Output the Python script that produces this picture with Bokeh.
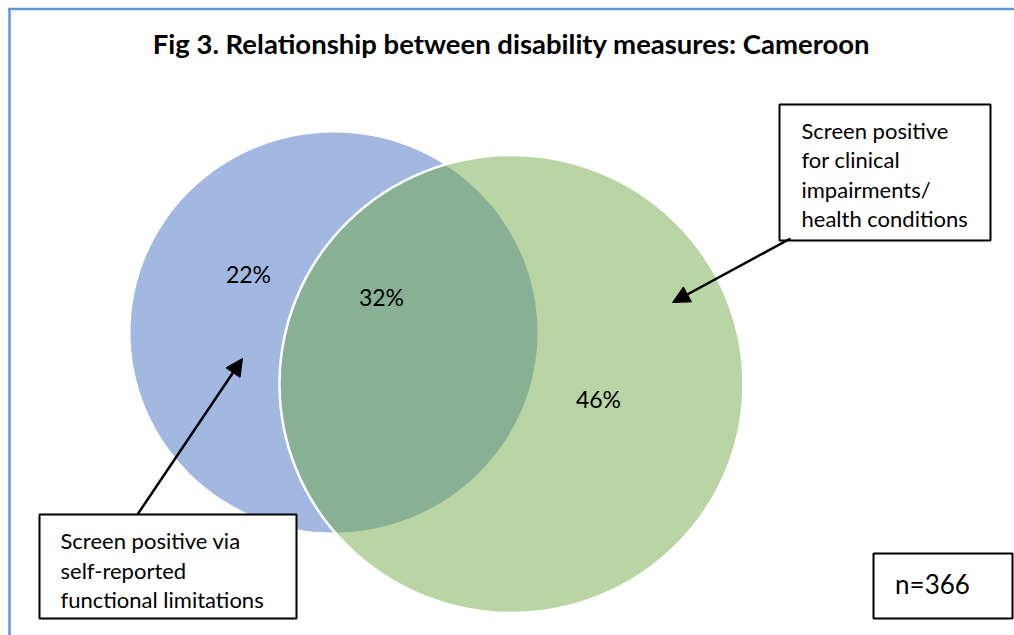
from bokeh.plotting import figure
from bokeh.models import Range1d, Arrow, NormalHead
from bokeh.core.properties import value
from bokeh.embed import file_html
from bokeh.resources import INLINE

# ---------------- data ----------------
title_text = "Fig 3. Relationship between disability measures: Cameroon"
region_names = ["self-reported only", "both", "clinical only"]
region_pcts = ["22%", "32%", "46%"]
set_a_lines = ["Screen positive via", "self-reported", "functional limitations"]
set_b_lines = ["Screen positive", "for clinical", "impairments/", "health conditions"]
n_text = "n=366"

W, H = 1014, 635
FONT = "Lato"


def sx(x):
    return x


def sy(y):
    return H - y


p = figure(width=W, height=H, output_backend="svg", toolbar_location=None,
           x_range=Range1d(0, W), y_range=Range1d(0, H), min_border=0)
p.axis.visible = False
p.grid.visible = False
p.outline_line_color = None
p.background_fill_color = "white"
p.border_fill_color = "white"

# frame border (top and left visible)
p.segment(x0=[sx(9), sx(7.75)], y0=[sy(635), sy(8.5)], x1=[sx(9), sx(1014)], y1=[sy(7.75), sy(8.5)],
          line_color="#5B9BD5", line_width=2.5)

# circles
p.ellipse(x=[sx(333.5)], y=[sy(332)], width=[407], height=[400],
          fill_color="#A2B8E0", line_color=None)
p.ellipse(x=[sx(511)], y=[sy(383.5)], width=[464], height=[458],
          fill_color="#6DA741", fill_alpha=0.48, line_color="white", line_width=2.5)

# percentage labels
p.text(x=[sx(248), sx(381), sx(598)], y=[sy(273), sy(296), sy(398)], text=region_pcts,
       text_font=value(FONT), text_font_size="23px", text_align="center",
       text_baseline="middle", text_color="black")

# title
p.text(x=[sx(511)], y=[sy(43)], text=[title_text], text_font=value(FONT),
       text_font_size="27.5px", text_font_style="bold", text_align="center",
       text_baseline="middle", text_color="black")

# boxes
p.quad(left=[sx(779), sx(39), sx(873)], right=[sx(990), sx(296), sx(1012)],
       top=[sy(104), sy(514), sy(553)], bottom=[sy(240), sy(618), sy(618)],
       fill_color="white", line_color="black", line_width=2)

p.text(x=[sx(801)] * len(set_b_lines), y=[sy(130 + 29.3 * i) for i in range(len(set_b_lines))],
       text=set_b_lines, text_font=value(FONT), text_font_size="22px",
       text_align="left", text_baseline="middle", text_color="black")
p.text(x=[sx(60)] * len(set_a_lines), y=[sy(540 + 29.5 * i) for i in range(len(set_a_lines))],
       text=set_a_lines, text_font=value(FONT), text_font_size="22px",
       text_align="left", text_baseline="middle", text_color="black")
p.text(x=[sx(932)], y=[sy(583)], text=[n_text], text_font=value(FONT),
       text_font_size="26px", text_align="center", text_baseline="middle", text_color="black")

# arrows
p.add_layout(Arrow(end=NormalHead(size=17, fill_color="black", line_color="black", line_width=1),
                   x_start=sx(790), y_start=sy(238), x_end=sx(672), y_end=sy(302),
                   line_color="black", line_width=2.5))
p.add_layout(Arrow(end=NormalHead(size=17, fill_color="black", line_color="black", line_width=1),
                   x_start=sx(137), y_start=sy(514), x_end=sx(242), y_end=sy(358),
                   line_color="black", line_width=2.5))

open("out.html", "w").write(file_html(p, INLINE))
